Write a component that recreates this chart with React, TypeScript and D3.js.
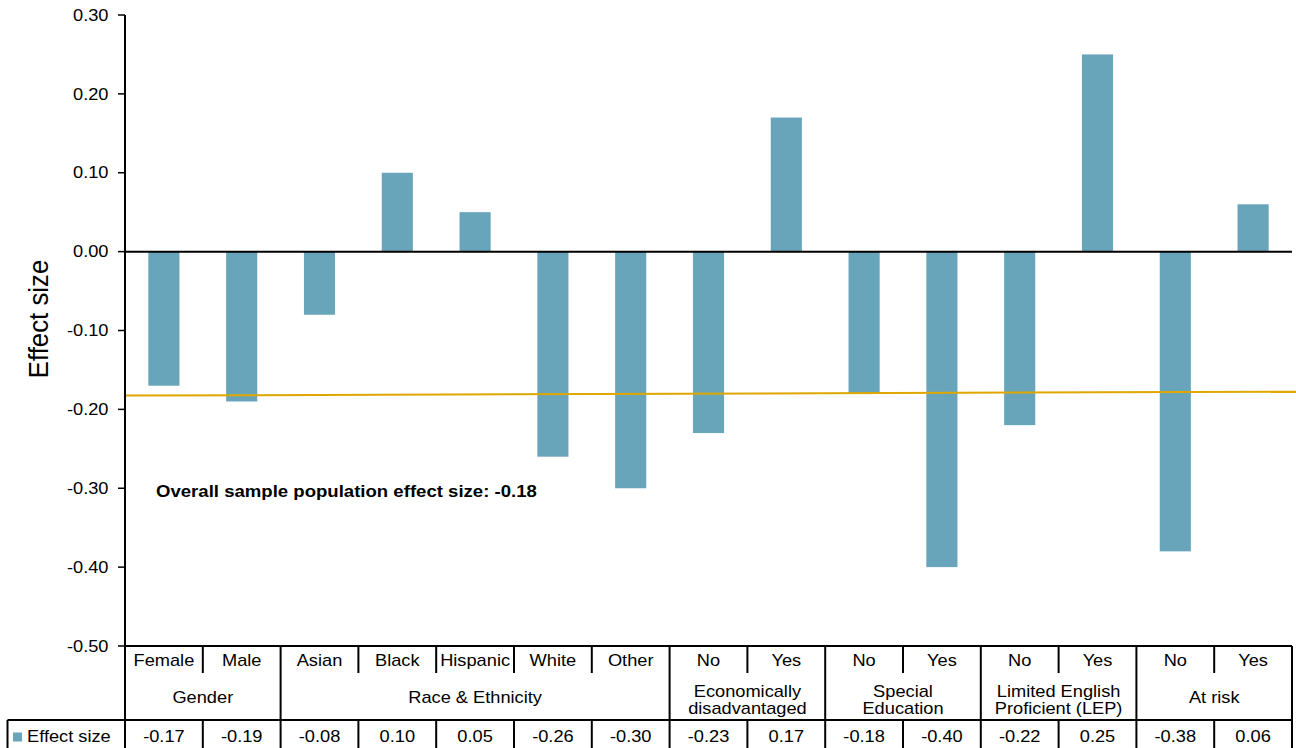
import React from 'react';
import * as d3 from 'd3';

// Subgroup categories along the x axis
const categories = ['Female', 'Male', 'Asian', 'Black', 'Hispanic', 'White', 'Other', 'No', 'Yes', 'No', 'Yes', 'No', 'Yes', 'No', 'Yes'];
// Effect size per subgroup
const effectSizes = [-0.17, -0.19, -0.08, 0.10, 0.05, -0.26, -0.30, -0.23, 0.17, -0.18, -0.40, -0.22, 0.25, -0.38, 0.06];
// Grouping row: label lines and number of categories spanned
const groupLabels = [['Gender'], ['Race & Ethnicity'], ['Economically', 'disadvantaged'], ['Special', 'Education'], ['Limited English', 'Proficient (LEP)'], ['At risk']];
const groupSpans = [2, 5, 2, 2, 2, 2];
// Y axis ticks
const yTicks = [0.3, 0.2, 0.1, 0.0, -0.1, -0.2, -0.3, -0.4, -0.5];
// Overall sample reference line (slight trend across the plot)
const overallEffect = -0.18;
const overallLineEnds = [-0.1825, -0.1775];

const W = 1296;
const H = 748;
const plotLeft = 125;
const plotRight = 1292;
const plotTop = 15;
const plotBottom = 646;
const row1Bottom = 673;
const row2Bottom = 720;
const tableLeft = 7.5;

const BAR = '#68a4ba';
const GOLD = '#dfa700';
const FONT = '"Liberation Sans", Arial, Helvetica, sans-serif';
const SX = 1.14;

const fmt = d3.formatLocale({ decimal: '.', thousands: ',', grouping: [3], currency: ['$', ''], minus: '-' }).format('.2f');

function T({ x, y, children, anchor = 'middle', size = 16, weight = 'normal' }: any) {
  return (
    <text
      transform={`translate(${x},${y}) scale(${SX},1)`}
      textAnchor={anchor}
      fontSize={size}
      fontWeight={weight}
      fontFamily={FONT}
      fill="#000"
    >
      {children}
    </text>
  );
}

export default function App() {
  const idx = categories.map((_, i) => String(i));
  const x = d3.scaleBand<string>().domain(idx).range([plotLeft, plotRight]).paddingInner(0).paddingOuter(0);
  const bw = x.bandwidth();
  const barW = bw * 0.4;
  const y = d3.scaleLinear().domain([-0.5, 0.3]).range([plotBottom, plotTop]);

  // group boundaries (category indices)
  const groupStarts: number[] = [];
  let acc = 0;
  groupSpans.forEach((s) => {
    groupStarts.push(acc);
    acc += s;
  });
  const groupBoundarySet = new Set(groupStarts.concat([categories.length]));

  const lineY = d3.scaleLinear().domain([0, 1]).range([y(overallLineEnds[0]), y(overallLineEnds[1])]);

  return (
    <svg width={W} height={H} style={{ position: 'absolute', left: 0, top: 0, background: '#fff' }}>
      <rect x={0} y={0} width={W} height={H} fill="#fff" />

      {/* bars */}
      {effectSizes.map((v, i) => {
        const x0 = (x(String(i)) as number) + (bw - barW) / 2;
        const y0 = y(Math.max(0, v));
        const y1 = y(Math.min(0, v));
        return <rect key={i} x={x0} y={y0} width={barW} height={y1 - y0} fill={BAR} />;
      })}

      {/* overall reference line */}
      <line x1={plotLeft} x2={W} y1={lineY(0)} y2={lineY(1)} stroke={GOLD} strokeWidth={2} />
      <T x={156} y={497} anchor="start" size={16.3} weight="bold">
        {`Overall sample population effect size: ${fmt(overallEffect)}`}
      </T>

      {/* zero line */}
      <line x1={plotLeft} x2={plotRight} y1={y(0)} y2={y(0)} stroke="#000" strokeWidth={2} />

      {/* y axis */}
      <line x1={plotLeft} x2={plotLeft} y1={plotTop} y2={H} stroke="#000" strokeWidth={2} />
      {yTicks.map((t) => (
        <g key={t}>
          <line x1={plotLeft - 7} x2={plotLeft} y1={y(t)} y2={y(t)} stroke="#000" strokeWidth={1.5} />
          <T x={108.5} y={y(t) + 5.7} anchor="end">
            {fmt(t)}
          </T>
        </g>
      ))}
      <text
        transform={`translate(48,${(260 + 378) / 2}) scale(1.1,1) rotate(-90)`}
        textAnchor="middle"
        fontSize={25.8}
        fontFamily={FONT}
        fill="#000"
      >
        Effect size
      </text>

      {/* table: bottom of plot / top of table */}
      <line x1={plotLeft} x2={plotRight} y1={plotBottom} y2={plotBottom} stroke="#000" strokeWidth={2} />
      <line x1={tableLeft} x2={plotRight} y1={row2Bottom} y2={row2Bottom} stroke="#000" strokeWidth={2} />
      <line x1={tableLeft} x2={tableLeft} y1={row2Bottom} y2={H} stroke="#000" strokeWidth={2} />

      {/* vertical separators */}
      {d3.range(1, categories.length + 1).map((b) => {
        const bx = b === categories.length ? plotRight : (x(String(b)) as number);
        const isGroup = groupBoundarySet.has(b);
        return (
          <g key={b}>
            <line x1={bx} x2={bx} y1={plotBottom} y2={isGroup ? row2Bottom : row1Bottom} stroke="#000" strokeWidth={2} />
            <line x1={bx} x2={bx} y1={row2Bottom} y2={H} stroke="#000" strokeWidth={2} />
          </g>
        );
      })}

      {/* category labels */}
      {categories.map((c, i) => (
        <T key={i} x={(x(String(i)) as number) + bw / 2} y={666}>
          {c}
        </T>
      ))}

      {/* group labels */}
      {groupLabels.map((lines, g) => {
        const s = groupStarts[g];
        const cx = (x(String(s)) as number) + (groupSpans[g] * bw) / 2;
        if (lines.length === 1) {
          return (
            <T key={g} x={cx} y={703}>
              {lines[0]}
            </T>
          );
        }
        return (
          <g key={g}>
            <T x={cx} y={696.5}>
              {lines[0]}
            </T>
            <T x={cx} y={714}>
              {lines[1]}
            </T>
          </g>
        );
      })}

      {/* data row */}
      <rect x={13} y={732.5} width={9} height={9} fill={BAR} />
      <T x={27} y={741.7} anchor="start">
        Effect size
      </T>
      {effectSizes.map((v, i) => (
        <T key={i} x={(x(String(i)) as number) + bw / 2} y={741.7}>
          {fmt(v)}
        </T>
      ))}
    </svg>
  );
}
